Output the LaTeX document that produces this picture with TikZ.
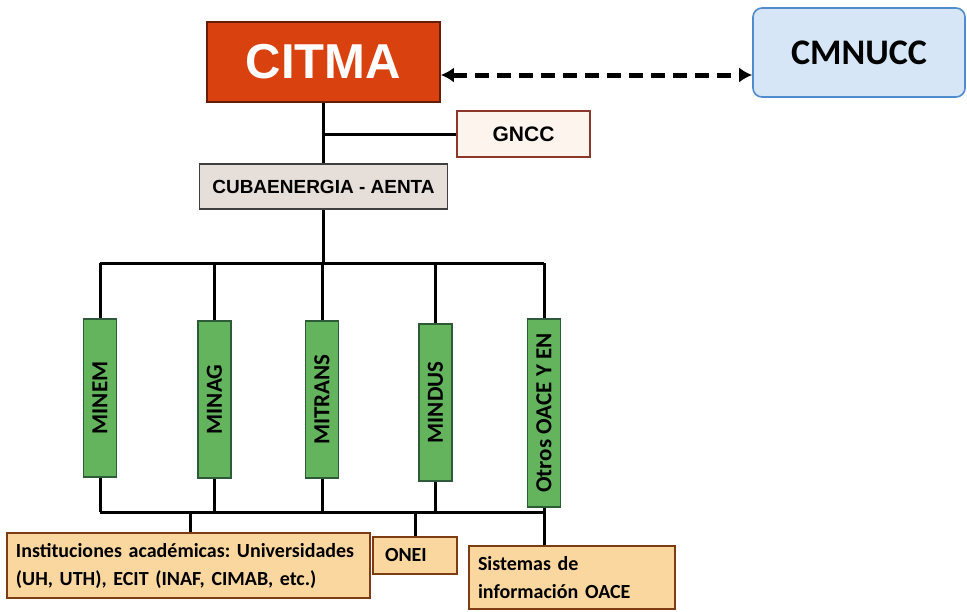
\documentclass[tikz,border=0pt]{standalone}
\usepackage{fontspec}
\setmainfont{Carlito}
\newfontfamily\arialfont{Liberation Sans}
\usetikzlibrary{arrows.meta, positioning}
\definecolor{citmared}{RGB}{217,66,14}
\definecolor{citmaedge}{RGB}{100,30,10}
\definecolor{unblue}{RGB}{214,230,246}
\definecolor{unedge}{RGB}{80,140,205}
\definecolor{gnccpink}{RGB}{253,244,238}
\definecolor{gnccedge}{RGB}{140,55,40}
\definecolor{cubagray}{RGB}{230,222,216}
\definecolor{mingreen}{RGB}{100,180,94}
\definecolor{minedge}{RGB}{45,90,55}
\definecolor{instorange}{RGB}{251,215,160}
\definecolor{instedge}{RGB}{125,60,20}
\frenchspacing

\begin{document}
\begin{tikzpicture}[x=1pt, y=-1pt,
  every node/.style={draw, inner sep=0pt, line width=1.6pt},
  headbox/.style={fill=citmared, draw=citmaedge, text=white, minimum width=233pt, minimum height=80pt,
    font=\arialfont\bfseries\fontsize{49}{50}\selectfont},
  unbox/.style={fill=unblue, draw=unedge, rounded corners=9pt, minimum width=212pt, minimum height=89pt,
    font=\bfseries\fontsize{36}{40}\selectfont},
  agencybox/.style={draw=#1, minimum height=46pt, font=\arialfont\bfseries\fontsize{19}{20}\selectfont},
  ministry/.style={rotate=90, fill=mingreen, draw=minedge, minimum height=33pt,
    font=\bfseries\fontsize{23}{24}\selectfont},
  infobox/.style={fill=instorange, draw=instedge, align=left, inner xsep=9pt,
    font=\bfseries\fontsize{20}{28}\selectfont},
  conn/.style={draw, line width=3pt}
]
\useasboundingbox (0,0) rectangle (967,611);

\node[headbox] (citma) at (323.5,62) {CITMA};
\node[unbox] (cmnucc) at (859,52.5) {CMNUCC};
\node[agencybox=gnccedge, fill=gnccpink, minimum width=133pt, font=\arialfont\bfseries\fontsize{21}{22}\selectfont] (gncc) at (523.5,134) {GNCC};
\node[agencybox=black!75, fill=cubagray, minimum width=248pt, minimum height=45pt] (cuba) at (323.5,186.5) {CUBAENERGIA - AENTA};

\node[ministry, minimum width=158pt] (minem) at (100,398) {MINEM};
\node[ministry, minimum width=157pt] (minag) at (214.5,399.5) {MINAG};
\node[ministry, minimum width=157pt] (mitrans) at (322,399.5) {MITRANS};
\node[ministry, minimum width=157pt] (mindus) at (435.5,402.5) {MINDUS};
\node[ministry, minimum width=188pt] (otros) at (544,413) {Otros OACE Y EN};

\node[infobox, text width=345pt, minimum height=65pt] (inst) at (188.5,565.5)
  {Instituciones académicas: Universidades\\(UH, UTH), ECIT (INAF, CIMAB, etc.)};
\node[infobox, text width=60pt, inner xsep=12pt, minimum height=37pt] (onei) at (415,555.5) {ONEI};
\node[infobox, text width=188pt, minimum height=63pt] (sist) at (572,577.5)
  {Sistemas de\\información OACE};

\coordinate (topbus) at (323.5,263);
\coordinate (lowbus) at (323.5,512);
\coordinate (instdrop) at (190,512);

\draw[line width=5pt, dash pattern=on 14pt off 8pt, {Latex[length=13pt,width=15pt]}-{Latex[length=13pt,width=15pt]}]
  ([yshift=-13pt]citma.east) -- ([yshift=-22.5pt]cmnucc.west);

\draw[conn] (citma.south) -- (cuba.north);
\draw[conn] (citma.south |- gncc.west) -- (gncc.west);
\draw[conn] (cuba.south) -- (topbus);
\draw[conn] (minem.east |- topbus) -- (otros.east |- topbus);
\draw[conn] (minem.west |- lowbus) -- (otros.west |- lowbus);
\foreach \m in {minem, minag, mitrans, mindus, otros} {
  \draw[conn] (\m.east |- topbus) -- (\m.east);
  \draw[conn] (\m.west) -- (\m.west |- lowbus);
}
\draw[conn] (instdrop |- inst.north) -- (instdrop);
\draw[conn] (onei.north) -- (onei.north |- lowbus);
\draw[conn] (otros.west |- sist.north) -- (otros.west |- lowbus);
\end{tikzpicture}
\end{document}
